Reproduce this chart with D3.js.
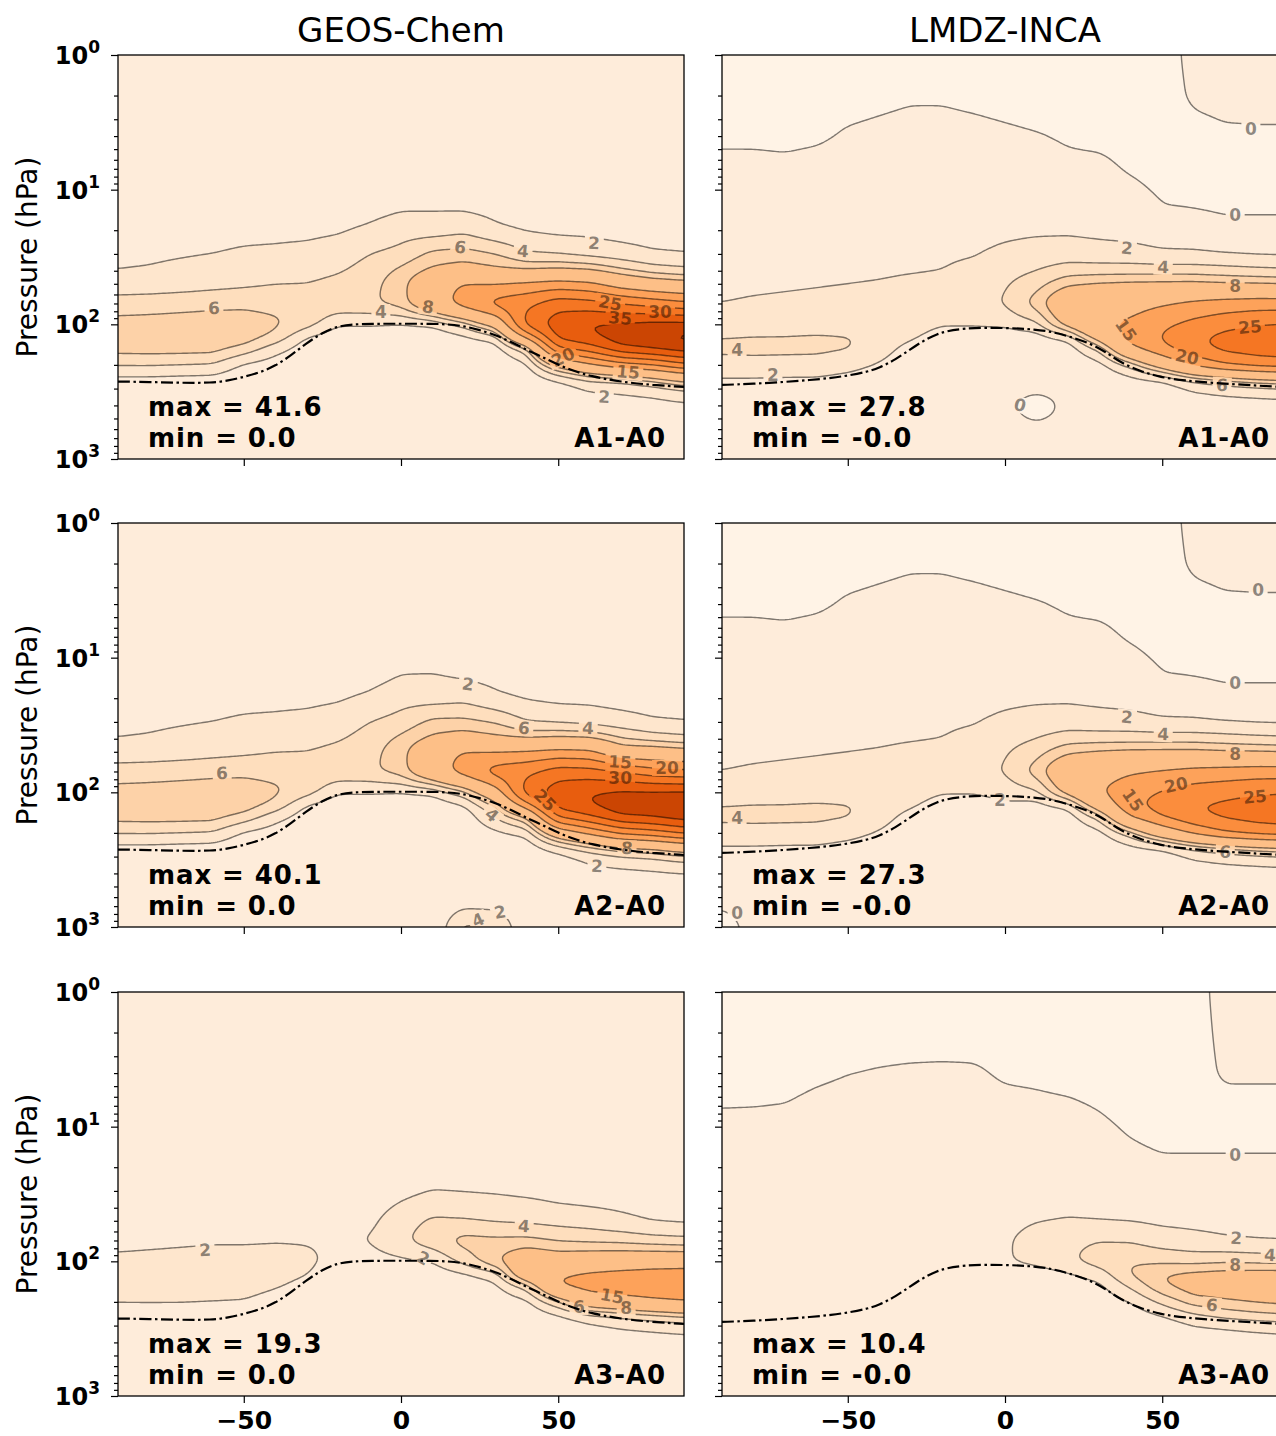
<!DOCTYPE html>
<html><head><meta charset="utf-8">
<script src="https://cdn.jsdelivr.net/npm/d3@7"></script>
<style>
html,body{margin:0;padding:0;background:#fff;}
svg{display:block;}
text{font-family:"DejaVu Sans",sans-serif;}
</style></head><body>
<svg id="chart" width="1276" height="1436"></svg>
<script>
// ---------------- DATA ----------------
const lats = [-90,-80,-70,-60,-50,-40,-30,-20,-10,0,10,20,30,40,50,60,70,80,90];
const pLevels = [1,2,4,7,10,15,20,30,40,50,70,100,125,150,200,250,300,400,600,1000];
const contourLevels = [0,2,4,6,8,15,20,25,30,35,40];
const latTicks = [-50,0,50];
const pMajorTicks = [1,10,100,1000];
const pMajorExp = ["0","1","2","3"];
const modelTitles = ["GEOS-Chem","LMDZ-INCA"];
const runNames = ["A1-A0","A2-A0","A3-A0"];
const maxValues = [["41.6","27.8"],["40.1","27.3"],["19.3","10.4"]];
const minValues = [["0.0","-0.0"],["0.0","-0.0"],["0.0","-0.0"]];

// tropopause (lat, hPa)
const geosTropLat = [-90,-80,-70,-60,-55,-50,-45,-40,-35,-30,-25,-20,-15,-10,0,10,15,20,25,30,35,40,45,50,55,60,70,80,90];
const geosTropP   = [266,268,272,272,262,246,228,204,170,138,115,103,100,99,99,99,100,103,110,120,135,155,175,200,222,242,268,282,292];
const lmdzTropLat = [-90,-80,-70,-62,-55,-50,-44,-40,-35,-29,-22,-13,0,10,15,20,27,32,37,43,49,57,67,80,90];
const lmdzTropP   = [282,276,268,259,250,240,226,210,184,147,116,106,106,109,114,122,138,160,194,222,246,262,273,285,294];

// fields: one profile per latitude (top 1 hPa -> bottom 1000 hPa)
const geosA1 = [
[.3,.4,.5,.6,.8,1.1,1.3,1.7,2.0,2.7,5.0,6.7,7.2,6.9,4.2,1.6,.8,.5,.3,.3],
[.3,.4,.5,.6,.8,1.1,1.4,1.8,2.1,2.8,5.1,6.8,7.3,7.0,4.2,1.6,.8,.5,.3,.3],
[.3,.4,.5,.6,.8,1.1,1.4,1.9,2.3,3.0,5.3,6.9,7.4,7.0,4.0,1.5,.7,.5,.3,.3],
[.3,.4,.5,.6,.8,1.2,1.5,2.0,2.5,3.3,5.5,7.0,7.4,6.9,3.8,1.4,.7,.5,.3,.3],
[.3,.4,.5,.6,.8,1.2,1.6,2.2,2.7,3.6,5.6,7.0,7.2,5.4,1.6,.8,.5,.4,.3,.3],
[.3,.4,.5,.6,.8,1.2,1.6,2.3,2.9,4.0,5.4,6.4,5.5,2.8,1.0,.6,.4,.4,.3,.3],
[.3,.4,.5,.6,.8,1.2,1.6,2.5,3.3,4.0,5.5,5.0,1.8,.9,.5,.4,.3,.3,.3,.3],
[.3,.4,.5,.7,.9,1.3,1.8,2.9,3.8,4.6,5.5,2.2,.6,.4,.3,.3,.3,.3,.3,.3],
[.3,.4,.6,.8,1.1,1.6,2.3,4.0,4.8,5.3,5.6,2.2,.6,.4,.3,.3,.3,.3,.3,.3],
[.3,.5,.7,1.0,1.4,2.0,3.2,4.6,6.5,7.2,7.0,1.8,.6,.4,.3,.3,.3,.3,.3,.3],
[.3,.5,.7,1.0,1.5,2.0,3.0,6.5,8.5,11.5,12.0,2.0,.7,.4,.3,.3,.3,.3,.3,.3],
[.3,.5,.7,1.0,1.4,2.0,3.5,6.8,9.5,15.5,17.5,4.5,1.5,.6,.4,.3,.3,.3,.3,.3],
[.3,.5,.7,.9,1.2,1.7,2.3,6.0,8.5,15,22,9.5,2.8,1.0,.5,.3,.3,.3,.3,.3],
[.3,.5,.6,.8,1.0,1.4,1.8,4.2,8.0,16,24,27,16,5.0,1.5,.6,.4,.3,.3,.3],
[.3,.4,.5,.7,.9,1.2,1.5,3.8,8.5,17,28,33,31,25,9,2.5,.9,.4,.3,.3],
[.3,.4,.5,.7,.9,1.2,1.5,3.2,8.0,16,27,35.5,34,28,14,4.5,2.2,.8,.4,.3],
[.3,.4,.5,.6,.8,1.0,1.2,2.8,6.3,12,25,36,38,34,18,5,2.5,1.0,.5,.3],
[.3,.4,.5,.6,.7,.9,1.1,2.2,5.0,10,23,37,39.5,36,20,7,3.0,1.2,.5,.3],
[.3,.4,.5,.6,.7,.9,1.0,2.0,4.5,9,21,37,41.6,38,24,10,4,1.5,.6,.3]
];
const geosA2 = [
[.3,.4,.5,.6,.8,1.1,1.3,1.7,2.0,2.7,5.0,6.7,7.2,6.9,4.2,1.6,.8,.5,.3,.3],
[.3,.4,.5,.6,.8,1.1,1.4,1.8,2.1,2.8,5.1,6.8,7.3,7.0,4.2,1.6,.8,.5,.3,.3],
[.3,.4,.5,.6,.8,1.1,1.4,1.9,2.3,3.0,5.3,6.9,7.4,7.0,4.0,1.5,.7,.5,.3,.3],
[.3,.4,.5,.6,.8,1.2,1.5,2.0,2.5,3.3,5.5,7.0,7.4,6.9,3.8,1.4,.7,.5,.3,.3],
[.3,.4,.5,.6,.8,1.2,1.6,2.2,2.7,3.6,5.6,7.0,7.2,5.4,1.6,.8,.5,.4,.3,.3],
[.3,.4,.5,.6,.8,1.2,1.6,2.3,2.9,4.0,5.4,6.4,5.5,2.8,1.0,.6,.4,.4,.3,.3],
[.3,.4,.5,.6,.8,1.2,1.6,2.5,3.3,4.0,5.5,5.0,1.8,.9,.5,.4,.3,.3,.3,.3],
[.3,.4,.5,.7,.9,1.3,1.8,2.9,3.8,4.6,5.5,2.2,.6,.4,.3,.3,.3,.3,.3,.3],
[.3,.4,.6,.8,1.1,1.6,2.3,4.0,4.8,5.3,5.6,2.2,.6,.4,.3,.3,.3,.3,.3,.3],
[.3,.5,.7,1.0,1.5,2.2,3.3,4.7,6.5,7.2,7.0,1.9,.6,.4,.3,.3,.3,.3,.3,.3],
[.3,.5,.7,1.0,1.6,2.2,3.1,6.5,8.5,11.5,12.0,2.2,.8,.4,.3,.3,.3,.3,.3,.3],
[.3,.5,.7,1.0,1.4,2.0,3.4,6.5,9.5,15.5,17.5,5.0,1.8,.7,.4,.3,.3,.3,.5,4.5],
[.3,.5,.7,.9,1.2,1.7,2.3,5.8,8.5,15,22.5,12,6.0,4.2,1.5,.6,.3,.3,.5,4.0],
[.3,.5,.6,.8,1.0,1.4,1.8,4.0,7.8,15.5,24,27.5,18,8,2.5,.9,.5,.3,.3,.3],
[.3,.4,.5,.7,.9,1.2,1.5,3.6,8.3,16.5,27.5,33,32,26,11,3.5,1.3,.5,.3,.3],
[.3,.4,.5,.7,.9,1.2,1.5,3.2,8.0,16,27,35,35,30,16,6,2.6,1.3,.5,.3],
[.3,.4,.5,.6,.8,1.0,1.2,2.8,6.0,10,25,36,38,35,21,8.5,3.5,1.4,.5,.3],
[.3,.4,.5,.6,.7,.9,1.1,2.2,5.0,10,22,36,38.5,36,23,9.5,4,1.6,.5,.3],
[.3,.4,.5,.6,.7,.9,1.0,2.0,4.5,9,21,36,40.1,38,26,12,5,1.8,.6,.3]
];
const geosA3 = [
[.3,.3,.4,.5,.6,.7,.8,1.0,1.2,1.4,1.5,2.4,2.8,2.6,2.1,1.2,.7,.4,.3,.3],
[.3,.3,.4,.5,.6,.7,.8,1.0,1.2,1.4,1.6,2.5,2.9,2.7,2.1,1.2,.7,.4,.3,.3],
[.3,.3,.4,.5,.6,.7,.8,1.0,1.2,1.5,1.7,2.6,3.0,2.8,2.1,1.1,.6,.4,.3,.3],
[.3,.3,.4,.5,.6,.7,.8,1.0,1.3,1.5,1.8,2.7,3.0,2.8,2.0,1.0,.6,.4,.3,.3],
[.3,.3,.4,.5,.6,.7,.8,1.0,1.3,1.5,1.8,2.7,3.0,2.7,1.9,1.0,.6,.4,.3,.3],
[.3,.3,.4,.5,.6,.7,.8,1.0,1.3,1.5,1.9,2.6,2.8,2.2,1.3,.8,.5,.4,.3,.3],
[.3,.3,.4,.5,.6,.7,.8,1.0,1.3,1.6,1.9,2.3,2.1,1.4,.8,.5,.4,.3,.3,.3],
[.3,.3,.4,.5,.6,.7,.8,1.0,1.3,1.6,1.8,1.6,.9,.6,.4,.3,.3,.3,.3,.3],
[.3,.3,.4,.5,.6,.7,.8,1.0,1.3,1.6,2.1,1.2,.6,.4,.3,.3,.3,.3,.3,.3],
[.3,.3,.4,.5,.6,.7,.8,1.5,2.3,3.0,3.6,1.6,.8,.5,.3,.3,.3,.3,.3,.3],
[.3,.3,.4,.5,.6,.9,1.2,2.0,3.2,4.4,5.3,2.0,.8,.5,.3,.3,.3,.3,.3,.3],
[.3,.3,.4,.5,.6,.9,1.2,1.9,3.0,4.2,6.8,4.8,1.6,.7,.4,.3,.3,.3,.3,.3],
[.3,.3,.4,.5,.6,.8,1.0,1.8,2.8,3.8,6.5,7.9,3.0,1.6,.7,.4,.3,.3,.3,.3],
[.3,.3,.4,.5,.6,.7,.9,1.6,2.6,3.6,6.5,11,12.5,5.0,1.4,.7,.4,.3,.3,.3],
[.3,.3,.4,.5,.6,.7,.8,1.4,2.2,3.3,5.8,10,14.5,15.5,5.5,1.8,.8,.4,.3,.3],
[.3,.3,.4,.5,.6,.6,.7,1.3,2.0,3.0,5.5,10.5,16,17.5,11,3.5,1.6,.7,.4,.3],
[.3,.3,.4,.5,.5,.6,.6,1.2,1.8,2.4,5.3,10.8,17,18.5,12.5,4.5,2.2,.9,.4,.3],
[.3,.3,.4,.5,.5,.5,.5,1.0,1.6,1.8,4.8,11,18,19,14,5.5,2.6,1.0,.4,.3],
[.3,.3,.4,.5,.5,.5,.5,1.0,1.5,1.6,4.5,11,18.5,19.3,15,6.5,3.0,1.1,.4,.3]
];
const lmdzA1 = [
[-.5,-.4,-.2,.3,.5,.7,.9,1.2,1.4,1.6,2.0,3.0,4.0,4.4,3.4,2.0,1.0,.5,.3,.3],
[-.5,-.4,-.2,.3,.5,.7,.9,1.2,1.4,1.7,2.2,3.1,4.1,4.5,3.4,2.0,1.0,.5,.3,.3],
[-.5,-.4,-.25,.25,.5,.7,.9,1.2,1.5,1.8,2.3,3.2,4.1,4.5,3.3,1.9,1.0,.5,.3,.3],
[-.5,-.35,-.15,.35,.55,.8,1.0,1.3,1.6,1.9,2.4,3.3,4.2,4.5,3.2,1.9,1.0,.5,.3,.3],
[-.4,-.3,.1,.5,.7,.9,1.1,1.4,1.7,2.0,2.5,3.3,4.1,4.2,2.7,1.5,.8,.4,.3,.3],
[-.35,-.2,.2,.5,.7,.9,1.1,1.5,1.8,2.1,2.6,3.2,3.4,3.0,1.8,1.0,.6,.4,.3,.3],
[-.3,-.1,.3,.6,.8,1.0,1.2,1.6,1.9,2.3,2.8,3.0,2.4,1.2,.6,.4,.3,.3,.3,.3],
[-.3,-.1,.3,.6,.8,1.0,1.3,1.8,2.0,2.4,3.0,2.3,.8,.4,.3,.3,.3,.3,.3,.3],
[-.3,-.2,.25,.6,.8,1.1,1.4,1.9,2.4,2.8,3.2,2.3,.7,.4,.3,.3,.3,.3,.3,.3],
[-.4,-.3,.15,.5,.8,1.2,1.6,2.4,3.2,3.8,4.2,2.4,.8,.4,.3,.3,.3,.3,.3,.3],
[-.4,-.4,.05,.4,.7,1.2,1.7,2.8,4.0,5.2,7.0,3.5,1.0,.5,.3,.3,.3,-.6,.3,.3],
[-.3,-.3,-.1,.2,.5,1.1,1.7,3.0,5.0,7.5,12,9.5,2.5,.8,.4,.3,.3,.3,.3,.3],
[-.3,-.3,-.2,.2,.5,1.0,1.5,2.8,5.0,8.2,12.5,14,10,4.5,1.2,.5,.3,.3,.3,.3],
[-.3,-.3,-.3,-.1,.2,.7,1.3,2.7,5.0,8.5,13,16,17,14,4.5,1.6,.6,.3,.3,.3],
[-.3,-.3,-.3,-.3,-.15,.1,.9,2.3,5.0,8.5,14.5,19,20.5,19,10,2.5,.8,.4,.3,.3],
[.2,.1,-.2,-.3,-.2,.05,.6,2.3,5.0,8.5,16,21.5,24,23.5,16,5.0,2.2,.8,.4,.3],
[.3,.2,-.1,-.3,-.2,-.05,.3,2.0,4.8,8.0,17,23.5,26.5,26.5,20,6.5,2.8,1.0,.4,.3],
[.3,.2,-.08,-.3,-.2,-.05,.3,1.8,4.5,7.8,17.5,25,27.5,27.5,22,8,3.2,1.1,.4,.3],
[.3,.2,-.08,-.3,-.2,-.05,.3,1.7,4.3,7.5,17.5,25.5,27.8,27.8,23,9,3.5,1.2,.4,.3]
];
const lmdzA2 = [
[-.5,-.4,-.2,.3,.5,.7,.9,1.2,1.4,1.6,2.0,3.0,4.0,4.4,3.4,2.0,1.0,.5,.3,-.4],
[-.5,-.4,-.2,.3,.5,.7,.9,1.2,1.4,1.7,2.2,3.1,4.1,4.5,3.4,2.0,1.0,.5,.3,.3],
[-.5,-.4,-.25,.25,.5,.7,.9,1.2,1.5,1.8,2.3,3.2,4.1,4.5,3.3,1.9,1.0,.5,.3,.3],
[-.5,-.35,-.15,.35,.55,.8,1.0,1.3,1.6,1.9,2.4,3.3,4.2,4.5,3.2,1.9,1.0,.5,.3,.3],
[-.4,-.3,.1,.5,.7,.9,1.1,1.4,1.7,2.0,2.5,3.3,4.1,4.2,2.7,1.5,.8,.4,.3,.3],
[-.35,-.2,.2,.5,.7,.9,1.1,1.5,1.8,2.1,2.6,3.2,3.4,3.0,1.8,1.0,.6,.4,.3,.3],
[-.3,-.1,.3,.6,.8,1.0,1.2,1.6,1.9,2.3,2.8,3.0,2.4,1.2,.6,.4,.3,.3,.3,.3],
[-.3,-.1,.3,.6,.8,1.0,1.3,1.8,2.0,2.4,3.0,2.3,.8,.4,.3,.3,.3,.3,.3,.3],
[-.3,-.2,.25,.6,.8,1.1,1.4,1.9,2.4,2.8,3.2,2.3,.7,.4,.3,.3,.3,.3,.3,.3],
[-.4,-.3,.15,.5,.8,1.2,1.6,2.4,3.2,3.8,4.2,2.8,1.6,.5,.3,.3,.3,.3,.3,.3],
[-.4,-.4,.05,.4,.7,1.2,1.7,2.8,4.0,5.2,7.0,3.6,1.1,.5,.3,.3,.3,.3,.3,.3],
[-.3,-.3,-.1,.2,.5,1.1,1.7,3.0,5.0,7.5,12,9.5,2.5,.8,.4,.3,.3,.3,.3,.3],
[-.3,-.3,-.2,.2,.5,1.0,1.5,2.8,5.0,8.2,13,14.8,11,4.8,1.2,.5,.3,.3,.3,.3],
[-.3,-.3,-.3,-.1,.2,.7,1.3,2.7,5.0,8.5,14.5,18,19,15.5,5,1.7,.6,.3,.3,.3],
[-.3,-.3,-.3,-.3,-.15,.1,.9,2.3,5.0,8.5,15.5,20.5,22,20.5,11,2.7,.8,.4,.3,.3],
[.2,.1,-.2,-.3,-.2,.05,.6,2.3,5.0,8.5,16.5,22.5,24.8,24,16,5.0,2.2,.8,.4,.3],
[.3,.2,-.1,-.3,-.2,-.05,.3,2.0,4.8,8.0,17,23.5,26,26,20,6.5,2.8,1.0,.4,.3],
[.3,.2,-.08,-.3,-.2,-.05,.3,1.8,4.5,7.8,17.5,24.5,27,27,22,8,3.2,1.1,.4,.3],
[.3,.2,-.08,-.3,-.2,-.05,.3,1.7,4.3,7.5,17.5,25,27.3,27.3,23,9,3.5,1.2,.4,.3]
];
const lmdzA3 = [
[-.5,-.4,-.3,-.05,.3,.5,.6,.7,.8,.9,1.0,1.1,1.1,1.0,.7,.5,.4,.3,.3,.3],
[-.5,-.4,-.3,-.03,.3,.5,.6,.7,.8,.9,1.0,1.1,1.1,1.0,.7,.5,.4,.3,.3,.3],
[-.5,-.4,-.3,.02,.3,.5,.6,.7,.8,.9,1.0,1.1,1.1,1.0,.7,.5,.4,.3,.3,.3],
[-.5,-.4,-.15,.2,.4,.5,.6,.7,.8,.9,1.0,1.1,1.1,1.0,.7,.5,.4,.3,.3,.3],
[-.4,-.3,-.02,.3,.4,.5,.6,.7,.8,.9,1.0,1.1,1.1,1.0,.7,.5,.4,.3,.3,.3],
[-.4,-.3,.05,.3,.4,.5,.6,.7,.8,.9,1.0,1.1,1.1,.9,.6,.5,.4,.3,.3,.3],
[-.4,-.3,.1,.3,.4,.5,.6,.7,.8,.9,1.0,1.1,1.0,.8,.5,.4,.3,.3,.3,.3],
[-.35,-.25,.1,.3,.4,.5,.6,.7,.8,.9,1.0,1.0,.8,.6,.4,.3,.3,.3,.3,.3],
[-.4,-.3,.1,.3,.4,.5,.6,.7,.8,.9,1.1,1.0,.7,.5,.4,.3,.3,.3,.3,.3],
[-.4,-.3,-.1,.2,.4,.5,.6,.7,.9,1.3,1.7,1.8,1.0,.5,.4,.3,.3,.3,.3,.3],
[-.4,-.3,-.15,.15,.3,.4,.5,.8,1.3,1.9,3.0,2.6,.9,.6,.4,.3,.3,.3,.3,.3],
[-.4,-.3,-.25,.1,.3,.4,.5,.9,1.5,2.2,3.5,3.7,1.7,.8,.5,.3,.3,.3,.3,.3],
[-.4,-.3,-.3,-.05,.15,.3,.5,.9,1.5,2.0,4.0,5.0,3.0,1.6,.7,.4,.3,.3,.3,.3],
[-.4,-.3,-.3,-.3,-.1,.1,.4,.8,1.3,1.9,3.8,5.8,6.3,4.5,2.0,.9,.5,.3,.3,.3],
[-.4,-.3,-.3,-.3,-.2,-.05,.2,.7,1.2,1.6,3.0,5.5,8.1,7.8,4.5,2.1,.9,.5,.3,.3],
[-.3,-.3,-.3,-.3,-.2,-.05,.2,.6,1.1,1.5,2.6,5.2,8.8,9.5,7.0,3.6,1.9,.8,.4,.3],
[.3,.2,.1,-.2,-.2,-.05,.2,.6,1.0,1.4,2.2,5.5,9.2,10.0,7.6,4.8,2.2,1.0,.4,.3],
[.3,.2,.1,-.2,-.2,-.05,.2,.6,1.0,1.3,2.0,5.3,9.4,10.3,8.2,5.5,2.6,1.1,.4,.3],
[.3,.2,.1,-.2,-.2,-.05,.2,.6,1.0,1.2,1.9,5.0,9.5,10.4,8.6,6.0,2.9,1.2,.4,.3]
];

// inline contour labels: [lat, hPa, text, rotation]
const geosA1Labels = [[-59.5,75.6,"6",-2],[-6.4,81,"4",0],[8.6,74.3,"8",8],[18.8,26.7,"6",8],[38.8,28.5,"4",5],[61.4,24.9,"2",3],[66.5,69.4,"25",10],[69.7,89.7,"35",5],[82.4,81,"30",0],[51.5,174.8,"20",-25],[72.2,226,"15",5],[64.6,346,"2",3]];
const geosA2Labels = [[21.3,15.7,"2",8],[39.1,33.3,"6",5],[59.5,33.3,"4",3],[69.7,59.5,"15",3],[84.6,65.9,"20",0],[69.7,78.2,"30",0],[45.8,114,"25",45],[28.9,147,"4",40],[71.9,259,"8",3],[62.3,352.5,"2",3],[-56.9,72,"6",-2],[31.5,774,"2",-10],[24.5,887,"4",-25]];
const geosA3Labels = [[-62.3,82.4,"2",-3],[39.1,54.6,"4",5],[7,94.5,"2",30],[67.1,180.8,"15",10],[56.6,218,"6",0],[71.6,222,"8",0]];
const lmdzA1Labels = [[78.2,3.54,"0",0],[73.2,15.4,"0",0],[38.8,27.1,"2",5],[50.3,37.5,"4",3],[73.2,51.9,"8",0],[38.5,110,"15",55],[77.9,104.7,"25",-5],[57.9,174.8,"20",12],[-85.2,155,"4",0],[-73.8,238,"2",0],[69,282,"6",3],[4.8,397,"0",15]];
const lmdzA2Labels = [[80.5,3.15,"0",0],[73.2,15.4,"0",0],[38.8,27.6,"2",5],[50.3,36.9,"4",3],[73.2,51.9,"8",0],[54.4,88.2,"20",-12],[79.5,108,"25",-5],[40.7,114,"15",55],[-1.6,114,"2",0],[-85.2,155,"4",0],[70,277,"6",3],[-85.2,787,"0",0]];
const lmdzA3Labels = [[73.2,16.2,"0",0],[73.5,67.1,"2",3],[84.3,89.7,"4",3],[73.2,106,"8",0],[65.8,211,"6",5]];

// ---------------- RENDER ----------------
const fields = [[geosA1,lmdzA1],[geosA2,lmdzA2],[geosA3,lmdzA3]];
const labelSets = [[geosA1Labels,lmdzA1Labels],[geosA2Labels,lmdzA2Labels],[geosA3Labels,lmdzA3Labels]];
const tropSets = [[geosTropLat,geosTropP],[lmdzTropLat,lmdzTropP]];

const W = 566, H = 404;
const colX = [118, 722];
const rowY = [55, 523, 992];
const bandT = [0.02,0.07,0.12,0.17,0.23,0.31,0.42,0.50,0.58,0.67,0.78,0.86];
const bandColor = bandT.map(t => d3.interpolateOranges(t));
const lineColor = "rgba(0,0,0,0.5)";
const logP = pLevels.map(Math.log10);

const svg = d3.select("#chart");
const defs = svg.append("defs");

function boxBlur(a, nx, ny, r, passes){
  let b = new Float64Array(nx*ny);
  const n = 2*r+1;
  for (let p=0;p<passes;p++){
    for (let j=0;j<ny;j++){
      for (let i=0;i<nx;i++){
        let s=0;
        for (let d=-r; d<=r; d++){ const ii=Math.min(nx-1,Math.max(0,i+d)); s+=a[j*nx+ii]; }
        b[j*nx+i]=s/n;
      }
    }
    for (let i=0;i<nx;i++){
      for (let j=0;j<ny;j++){
        let s=0;
        for (let d=-r; d<=r; d++){ const jj=Math.min(ny-1,Math.max(0,j+d)); s+=b[jj*nx+i]; }
        a[j*nx+i]=s/n;
      }
    }
  }
  return a;
}

function drawPanel(row, col, idx){
  const x0 = colX[col], y0 = rowY[row];
  const x = d3.scaleLinear().domain([-90,90]).range([x0, x0+W]);
  const y = d3.scaleLog().domain([1,1000]).range([y0, y0+H]);
  const grid = fields[row][col];
  const labels = labelSets[row][col];

  const s = 2, pad = 8;
  const gx0 = x0 - pad, gy0 = y0 - pad;
  const nx = Math.ceil((W+2*pad)/s), ny = Math.ceil((H+2*pad)/s);
  const ci=[], ct=[];
  for (let i=0;i<nx;i++){
    let lat = x.invert(gx0+(i+0.5)*s); lat = Math.max(-90, Math.min(90, lat));
    let k = 0; while (k < lats.length-2 && lat > lats[k+1]) k++;
    ci.push(k); ct.push((lat-lats[k])/(lats[k+1]-lats[k]));
  }
  const rj=[], rt=[];
  for (let j=0;j<ny;j++){
    let lp = Math.log10(y.invert(gy0+(j+0.5)*s)); lp = Math.max(0, Math.min(3, lp));
    let k = 0; while (k < logP.length-2 && lp > logP[k+1]) k++;
    rj.push(k); rt.push((lp-logP[k])/(logP[k+1]-logP[k]));
  }
  let vals = new Float64Array(nx*ny);
  for (let j=0;j<ny;j++){
    const k=rj[j], ty=rt[j];
    for (let i=0;i<nx;i++){
      const a=ci[i], tx=ct[i];
      const v = (1-tx)*(1-ty)*grid[a][k] + tx*(1-ty)*grid[a+1][k] + (1-tx)*ty*grid[a][k+1] + tx*ty*grid[a+1][k+1];
      vals[j*nx+i]=v;
    }
  }
  vals = boxBlur(vals, nx, ny, 2, 3);
  const contours = d3.contours().size([nx, ny]).thresholds(contourLevels)(Array.from(vals));
  const path = d3.geoPath(d3.geoIdentity().scale(s).translate([gx0, gy0]));

  const clipId = "clip"+idx;
  defs.append("clipPath").attr("id", clipId).append("rect")
    .attr("x", x0).attr("y", y0).attr("width", W).attr("height", H);

  const g = svg.append("g").attr("clip-path", `url(#${clipId})`);
  g.append("rect").attr("x", x0).attr("y", y0).attr("width", W).attr("height", H).attr("fill", bandColor[0]);
  g.selectAll("path.fill").data(contours).join("path").attr("class","fill")
    .attr("d", path).attr("fill", (d,i) => bandColor[i+1]).attr("stroke", "none");

  // mask under labels
  const maskId = "mask"+idx;
  const mask = defs.append("mask").attr("id", maskId).attr("maskUnits","userSpaceOnUse")
    .attr("x",0).attr("y",0).attr("width",1276).attr("height",1436);
  mask.append("rect").attr("x",0).attr("y",0).attr("width",1276).attr("height",1436).attr("fill","#fff");
  labels.forEach(l => {
    const w = l[2].length*11 + 8;
    mask.append("rect").attr("x", -w/2).attr("y", -8).attr("width", w).attr("height", 16).attr("fill","#000")
      .attr("transform", `translate(${x(l[0])},${y(l[1])}) rotate(${l[3]})`);
  });
  const gl = g.append("g").attr("mask", `url(#${maskId})`);
  gl.selectAll("path.line").data(contours).join("path").attr("class","line")
    .attr("d", path).attr("fill","none").attr("stroke", lineColor).attr("stroke-width", 1.4);

  g.selectAll("text.clab").data(labels).join("text").attr("class","clab")
    .attr("transform", l => `translate(${x(l[0])},${y(l[1])}) rotate(${l[3]})`)
    .attr("text-anchor","middle").attr("dominant-baseline","central")
    .attr("font-size", 17).attr("font-weight","bold").attr("fill","rgba(0,0,0,0.45)")
    .text(l => l[2]);

  // tropopause
  const tLat = tropSets[col][0], tP = tropSets[col][1];
  const line = d3.line().x((d,i)=>x(tLat[i])).y((d,i)=>y(tP[i])).curve(d3.curveBasis);
  g.append("path").attr("d", line(tLat)).attr("fill","none").attr("stroke","#000")
    .attr("stroke-width", 2.2).attr("stroke-dasharray","12,3.5,2.5,3.5");

  // frame
  svg.append("rect").attr("x", x0).attr("y", y0).attr("width", W).attr("height", H)
    .attr("fill","none").attr("stroke","#000").attr("stroke-width",1.3);

  // y axis ticks
  const minor = [];
  for (let e=0;e<3;e++) for (let m=2;m<=9;m++) minor.push(m*Math.pow(10,e));
  const yAxisMaj = d3.axisLeft(y).tickValues(pMajorTicks).tickSize(7).tickFormat("");
  const yAxisMin = d3.axisLeft(y).tickValues(minor).tickSize(4).tickFormat("");
  const ga1 = svg.append("g").attr("transform", `translate(${x0},0)`).call(yAxisMaj);
  const ga2 = svg.append("g").attr("transform", `translate(${x0},0)`).call(yAxisMin);
  [ga1,ga2].forEach(ga => { ga.select(".domain").remove(); ga.selectAll("line").attr("stroke","#000").attr("stroke-width",1.2); });

  // x axis
  const xAxis = d3.axisBottom(x).tickValues(latTicks).tickSize(7).tickFormat(row===2 ? d3.format("d") : "");
  const gx = svg.append("g").attr("transform", `translate(0,${y0+H})`).call(xAxis);
  gx.select(".domain").remove();
  gx.selectAll("line").attr("stroke","#000").attr("stroke-width",1.2);
  gx.selectAll("text").attr("font-family","DejaVu Sans").attr("font-weight","bold")
    .attr("font-size",25).attr("fill","#000").attr("dy",null).attr("y",33);

  if (col===0){
    pMajorTicks.forEach((p,i) => {
      const t = svg.append("text").attr("x", x0-18).attr("y", y(p)+9).attr("text-anchor","end")
        .attr("font-weight","bold").attr("font-size",24).attr("fill","#000");
      t.append("tspan").text("10");
      t.append("tspan").attr("font-size",17).attr("dy",-11).text(pMajorExp[i]);
    });
    svg.append("text").attr("transform", `translate(27,${y0+H/2}) rotate(-90)`)
      .attr("text-anchor","middle").attr("dominant-baseline","central")
      .attr("font-size",28).attr("fill","#000").text("Pressure (hPa)");
  }

  // max / min lines
  svg.append("text").attr("x", x0+30).attr("y", y0+361).attr("font-weight","bold").attr("font-size",26)
    .attr("letter-spacing",0.9).attr("fill","#000").text("max = " + maxValues[row][col]);
  svg.append("text").attr("x", x0+30).attr("y", y0+392).attr("font-weight","bold").attr("font-size",26)
    .attr("letter-spacing",0.9).attr("fill","#000").text("min = " + minValues[row][col]);
  svg.append("text").attr("x", x0+548).attr("y", y0+392).attr("text-anchor","end").attr("font-weight","bold")
    .attr("font-size",26).attr("letter-spacing",0.9).attr("fill","#000").text(runNames[row]);

  if (row===0){
    svg.append("text").attr("x", x0+W/2).attr("y", 42).attr("text-anchor","middle")
      .attr("font-size",34).attr("fill","#000").text(modelTitles[col]);
  }
}

let idx = 0;
for (let r=0;r<3;r++) for (let c=0;c<2;c++) drawPanel(r, c, idx++);
</script>
</body></html>
